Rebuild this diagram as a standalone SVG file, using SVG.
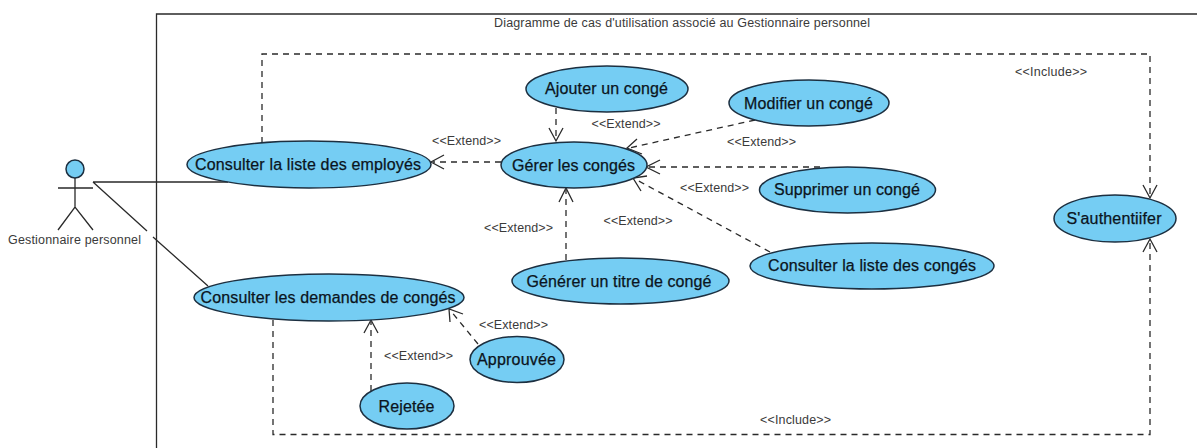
<svg xmlns="http://www.w3.org/2000/svg" width="1197" height="448" viewBox="0 0 1197 448">
<style>
.uc{fill:#75cdf3;stroke:#1c2f40;stroke-width:1.5}
.t{font-family:"Liberation Sans",Arial,sans-serif;font-size:16px;fill:#0b1420;text-anchor:middle;stroke:#0b1420;stroke-width:.25}
.s{font-family:"Liberation Sans",Arial,sans-serif;font-size:12.5px;fill:#3a3a3a;text-anchor:middle}
.l{fill:none;stroke:#2a2a2a;stroke-width:1.3}
.d{fill:none;stroke:#2a2a2a;stroke-width:1.3;stroke-dasharray:6 5}
</style>
<rect width="1197" height="448" fill="#fff"/>
<g id="frame"><path class="l" d="M156.500 448V14H1197"/><text class="s" x="682" y="27" textLength="376">Diagramme de cas d'utilisation associé au Gestionnaire personnel</text></g>
<g id="connectors">
<path class="l" d="M93 182H228M93 182L147 231M153 237L208 286"/>
<path class="d" d="M262 143V54H1150V198"/>
<path class="l" d="M1143 185L1150 198L1157 185"/>
<path class="d" d="M273 320V434.500H1150V241"/>
<path class="l" d="M1143 252L1150 239L1157 252"/>
<path class="d" d="M501 162H433"/><path class="l" d="M444 155L431 162L444 169"/>
<path class="d" d="M556 108V140"/><path class="l" d="M549 128L556 141L563 128"/>
<path class="d" d="M755 120L629 148"/><path class="l" d="M637 139L627 148L642 154"/>
<path class="d" d="M820 167H648"/><path class="l" d="M660 160L646 167L660 174"/>
<path class="d" d="M770 252L635 179"/><path class="l" d="M647 176L633 178L641 191"/>
<path class="d" d="M566 260V190"/><path class="l" d="M559 202L566 188L573 202"/>
<path class="d" d="M371 391V322"/><path class="l" d="M364 333L371 320L378 333"/>
<path class="d" d="M478 344L450 310"/><path class="l" d="M463 314L449 309L450 322"/>
<text class="s" x="466.500" y="145" textLength="69">&lt;&lt;Extend&gt;&gt;</text>
<text class="s" x="626" y="128" textLength="69">&lt;&lt;Extend&gt;&gt;</text>
<text class="s" x="761.500" y="146" textLength="69">&lt;&lt;Extend&gt;&gt;</text>
<text class="s" x="714.500" y="192" textLength="69">&lt;&lt;Extend&gt;&gt;</text>
<text class="s" x="638" y="225" textLength="69">&lt;&lt;Extend&gt;&gt;</text>
<text class="s" x="518.500" y="232" textLength="69">&lt;&lt;Extend&gt;&gt;</text>
<text class="s" x="513.500" y="329" textLength="69">&lt;&lt;Extend&gt;&gt;</text>
<text class="s" x="418.500" y="360" textLength="69">&lt;&lt;Extend&gt;&gt;</text>
<text class="s" x="1051" y="76" textLength="72">&lt;&lt;Include&gt;&gt;</text>
<text class="s" x="795.500" y="424" textLength="71">&lt;&lt;Include&gt;&gt;</text>
</g>
<g id="actor"><circle cx="75" cy="169" r="9" class="uc"/><path class="l" d="M75 178V207M58 188H93M58 230L75 207L93 230"/><text class="s" x="74.500" y="244" textLength="133">Gestionnaire personnel</text></g>
<g id="uc-employes"><ellipse class="uc" cx="309" cy="164.500" rx="122" ry="23.500"/><text class="t" x="308" y="170" textLength="226">Consulter la liste des employés</text></g>
<g id="uc-demandes"><ellipse class="uc" cx="329" cy="297.500" rx="135" ry="23.500"/><text class="t" x="328" y="303" textLength="255">Consulter les demandes de congés</text></g>
<g id="uc-ajouter"><ellipse class="uc" cx="607" cy="89" rx="81" ry="23"/><text class="t" x="606.500" y="94" textLength="123">Ajouter un congé</text></g>
<g id="uc-modifier"><ellipse class="uc" cx="809" cy="103" rx="80" ry="23"/><text class="t" x="808.500" y="109" textLength="129">Modifier un congé</text></g>
<g id="uc-gerer"><ellipse class="uc" cx="574" cy="165" rx="73" ry="23"/><text class="t" x="573.500" y="171" textLength="123">Gérer les congés</text></g>
<g id="uc-supprimer"><ellipse class="uc" cx="847.500" cy="190" rx="88" ry="23"/><text class="t" x="847" y="195" textLength="146">Supprimer un congé</text></g>
<g id="uc-liste-conges"><ellipse class="uc" cx="872" cy="266" rx="122" ry="23"/><text class="t" x="872" y="271" textLength="208">Consulter la liste des congés</text></g>
<g id="uc-generer"><ellipse class="uc" cx="620.500" cy="281" rx="108.500" ry="23"/><text class="t" x="619" y="287" textLength="185">Générer un titre de congé</text></g>
<g id="uc-auth"><ellipse class="uc" cx="1115" cy="218.500" rx="61" ry="23.500"/><text class="t" x="1114" y="224" textLength="95">S'authentiifer</text></g>
<g id="uc-approuvee"><ellipse class="uc" cx="517" cy="359.500" rx="47" ry="23"/><text class="t" x="516.500" y="365" textLength="79">Approuvée</text></g>
<g id="uc-rejetee"><ellipse class="uc" cx="407" cy="406" rx="47" ry="23"/><text class="t" x="406.500" y="412" textLength="56">Rejetée</text></g>
</svg>
